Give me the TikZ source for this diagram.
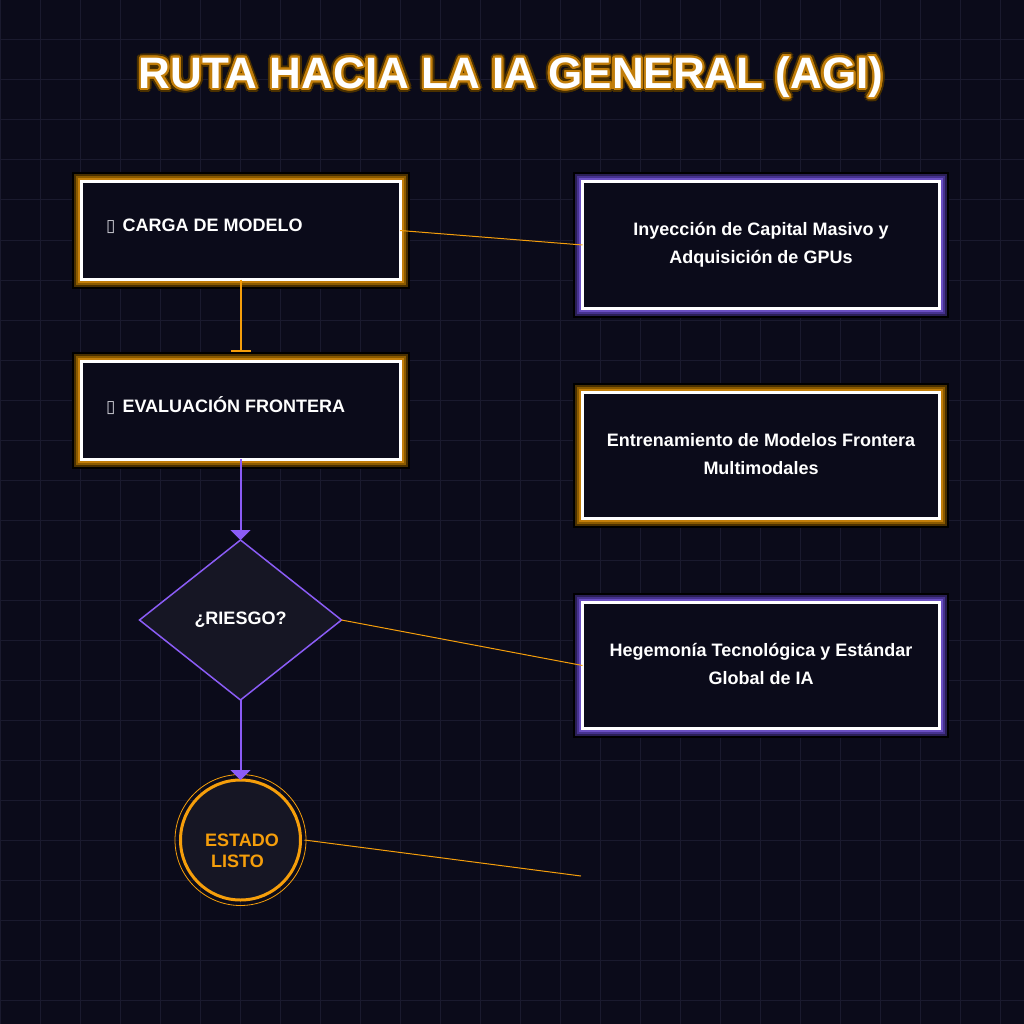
\documentclass[tikz,border=0pt]{standalone}
\usepackage{fontspec}
\setmainfont{Liberation Sans}
\newfontfamily\symfont{DejaVu Sans}
\usepackage[copies]{contour}
\usetikzlibrary{shapes.geometric,arrows.meta}
\definecolor{bg}{HTML}{0B0B1A}
\definecolor{gridc}{HTML}{1A1A2E}
\definecolor{amber}{HTML}{F59E0B}
\definecolor{violet}{HTML}{8B5CF6}
\definecolor{darkfill}{HTML}{161624}
\definecolor{agA}{HTML}{4A3000}
\definecolor{agB}{HTML}{8A5A00}
\definecolor{agC}{HTML}{C27E0A}
\definecolor{vgA}{HTML}{2A1F55}
\definecolor{vgB}{HTML}{46328F}
\definecolor{vgC}{HTML}{6A4FC2}
\definecolor{tofu}{HTML}{D0D0D8}
\tikzset{
  gridline/.style={draw=gridc, line width=1pt},
  boxbase/.style={rectangle, draw=white, line width=3pt, fill=bg, inner sep=0pt, outer sep=0pt,
    text=white, font=\bfseries\fontsize{18}{28}\selectfont, align=center},
  amberbox/.style={boxbase,
    preaction={draw=black, line width=19pt},
    preaction={draw=agA, line width=15pt},
    preaction={draw=agB, line width=11pt},
    preaction={draw=agC, line width=7pt}},
  violetbox/.style={boxbase,
    preaction={draw=black, line width=19pt},
    preaction={draw=vgA, line width=15pt},
    preaction={draw=vgB, line width=11pt},
    preaction={draw=vgC, line width=7pt}},
  leftbox/.style={minimum width=319pt, minimum height=98pt},
  rightbox/.style={minimum width=357pt, minimum height=126pt},
  lbl/.style={text=white, font=\bfseries\fontsize{18}{22}\selectfont, inner sep=0pt, anchor=west},
  thinlink/.style={draw=amber, line width=1pt},
  flowarrow/.style={draw=violet, line width=2pt, -{Triangle[width=20pt,length=10pt]}},
}
\newcommand{\tofubox}{{\symfont\color{tofu}\fontsize{17}{20}\selectfont ▯}\hspace{7pt}}
\begin{document}
\begin{tikzpicture}[x=1pt, y=-1pt]
\fill[bg] (0,0) rectangle (1024,1024);
\useasboundingbox (0,0) rectangle (1024,1024);
\foreach \i in {0,40,...,1000} {
  \draw[gridline] (\i,0) -- (\i,1024);
  \draw[gridline] (0,\i) -- (1024,\i);
}
% title
\node[text=white, font=\bfseries\fontsize{44}{48}\selectfont, inner sep=0pt] (title) at (511,79)
  {{\contourlength{4pt}\rlap{\textcolor{agA}{\contour{agA}{RUTA HACIA LA IA GENERAL (AGI)}}}}%
   {\contourlength{2.2pt}\contour{agC}{RUTA HACIA LA IA GENERAL (AGI)}}};

% left boxes
\node[amberbox, leftbox] (load) at (240.5,230.5) {};
\node[amberbox, leftbox] (eval) at (240.5,410) {};
\node[lbl] (loadtxt) at (106,226) {\tofubox CARGA DE MODELO};
\node[lbl] (evaltxt) at (106,406) {\tofubox EVALUACIÓN FRONTERA};

% right boxes
\node[violetbox, rightbox] (capital) at (761,245) {\raisebox{3pt}{Inyección de Capital Masivo y}\\\raisebox{3pt}{Adquisición de GPUs}};
\node[amberbox, rightbox] (train) at (761,455) {\raisebox{3pt}{Entrenamiento de Modelos Frontera}\\\raisebox{3pt}{Multimodales}};
\node[violetbox, rightbox] (hegem) at (761,665.5) {\raisebox{3pt}{Hegemonía Tecnológica y Estándar}\\\raisebox{3pt}{Global de IA}};

% decision
\node[diamond, aspect=1.26, draw=violet, line width=1.5pt, fill=darkfill, minimum width=202pt, minimum height=160pt,
  inner sep=0pt, outer sep=0pt, text=white, font=\bfseries\fontsize{18}{22}\selectfont] (risk) at (240.5,620) {¿RIESGO?};

% terminal
\node[circle, draw=amber, line width=3pt, fill=darkfill, minimum size=120pt, inner sep=0pt, outer sep=0pt] (ready) at (240.5,840) {};
\draw[amber, line width=0.8pt] (ready.center) circle[radius=65.5pt];
\node[text=amber, font=\bfseries\fontsize{18}{21}\selectfont, align=left, anchor=north west, inner sep=0pt] (readytxt) at (205,834) {ESTADO\\\hspace*{6pt}LISTO};

% connectors
\draw[amber, line width=2pt, -{Bar[width=20pt, line width=2pt]}, shorten >=9pt] (load.south) -- (eval.north);
\draw[flowarrow] (eval.south) -- (risk.north);
\draw[flowarrow] (risk.south) -- (ready.north);

\coordinate (loose) at (581,876);
\draw[thinlink] (load.east) -- (capital.west);
\draw[thinlink] (risk.east) -- (hegem.west);
\draw[thinlink] ([xshift=4pt]ready.east) -- (loose);
\end{tikzpicture}
\end{document}
